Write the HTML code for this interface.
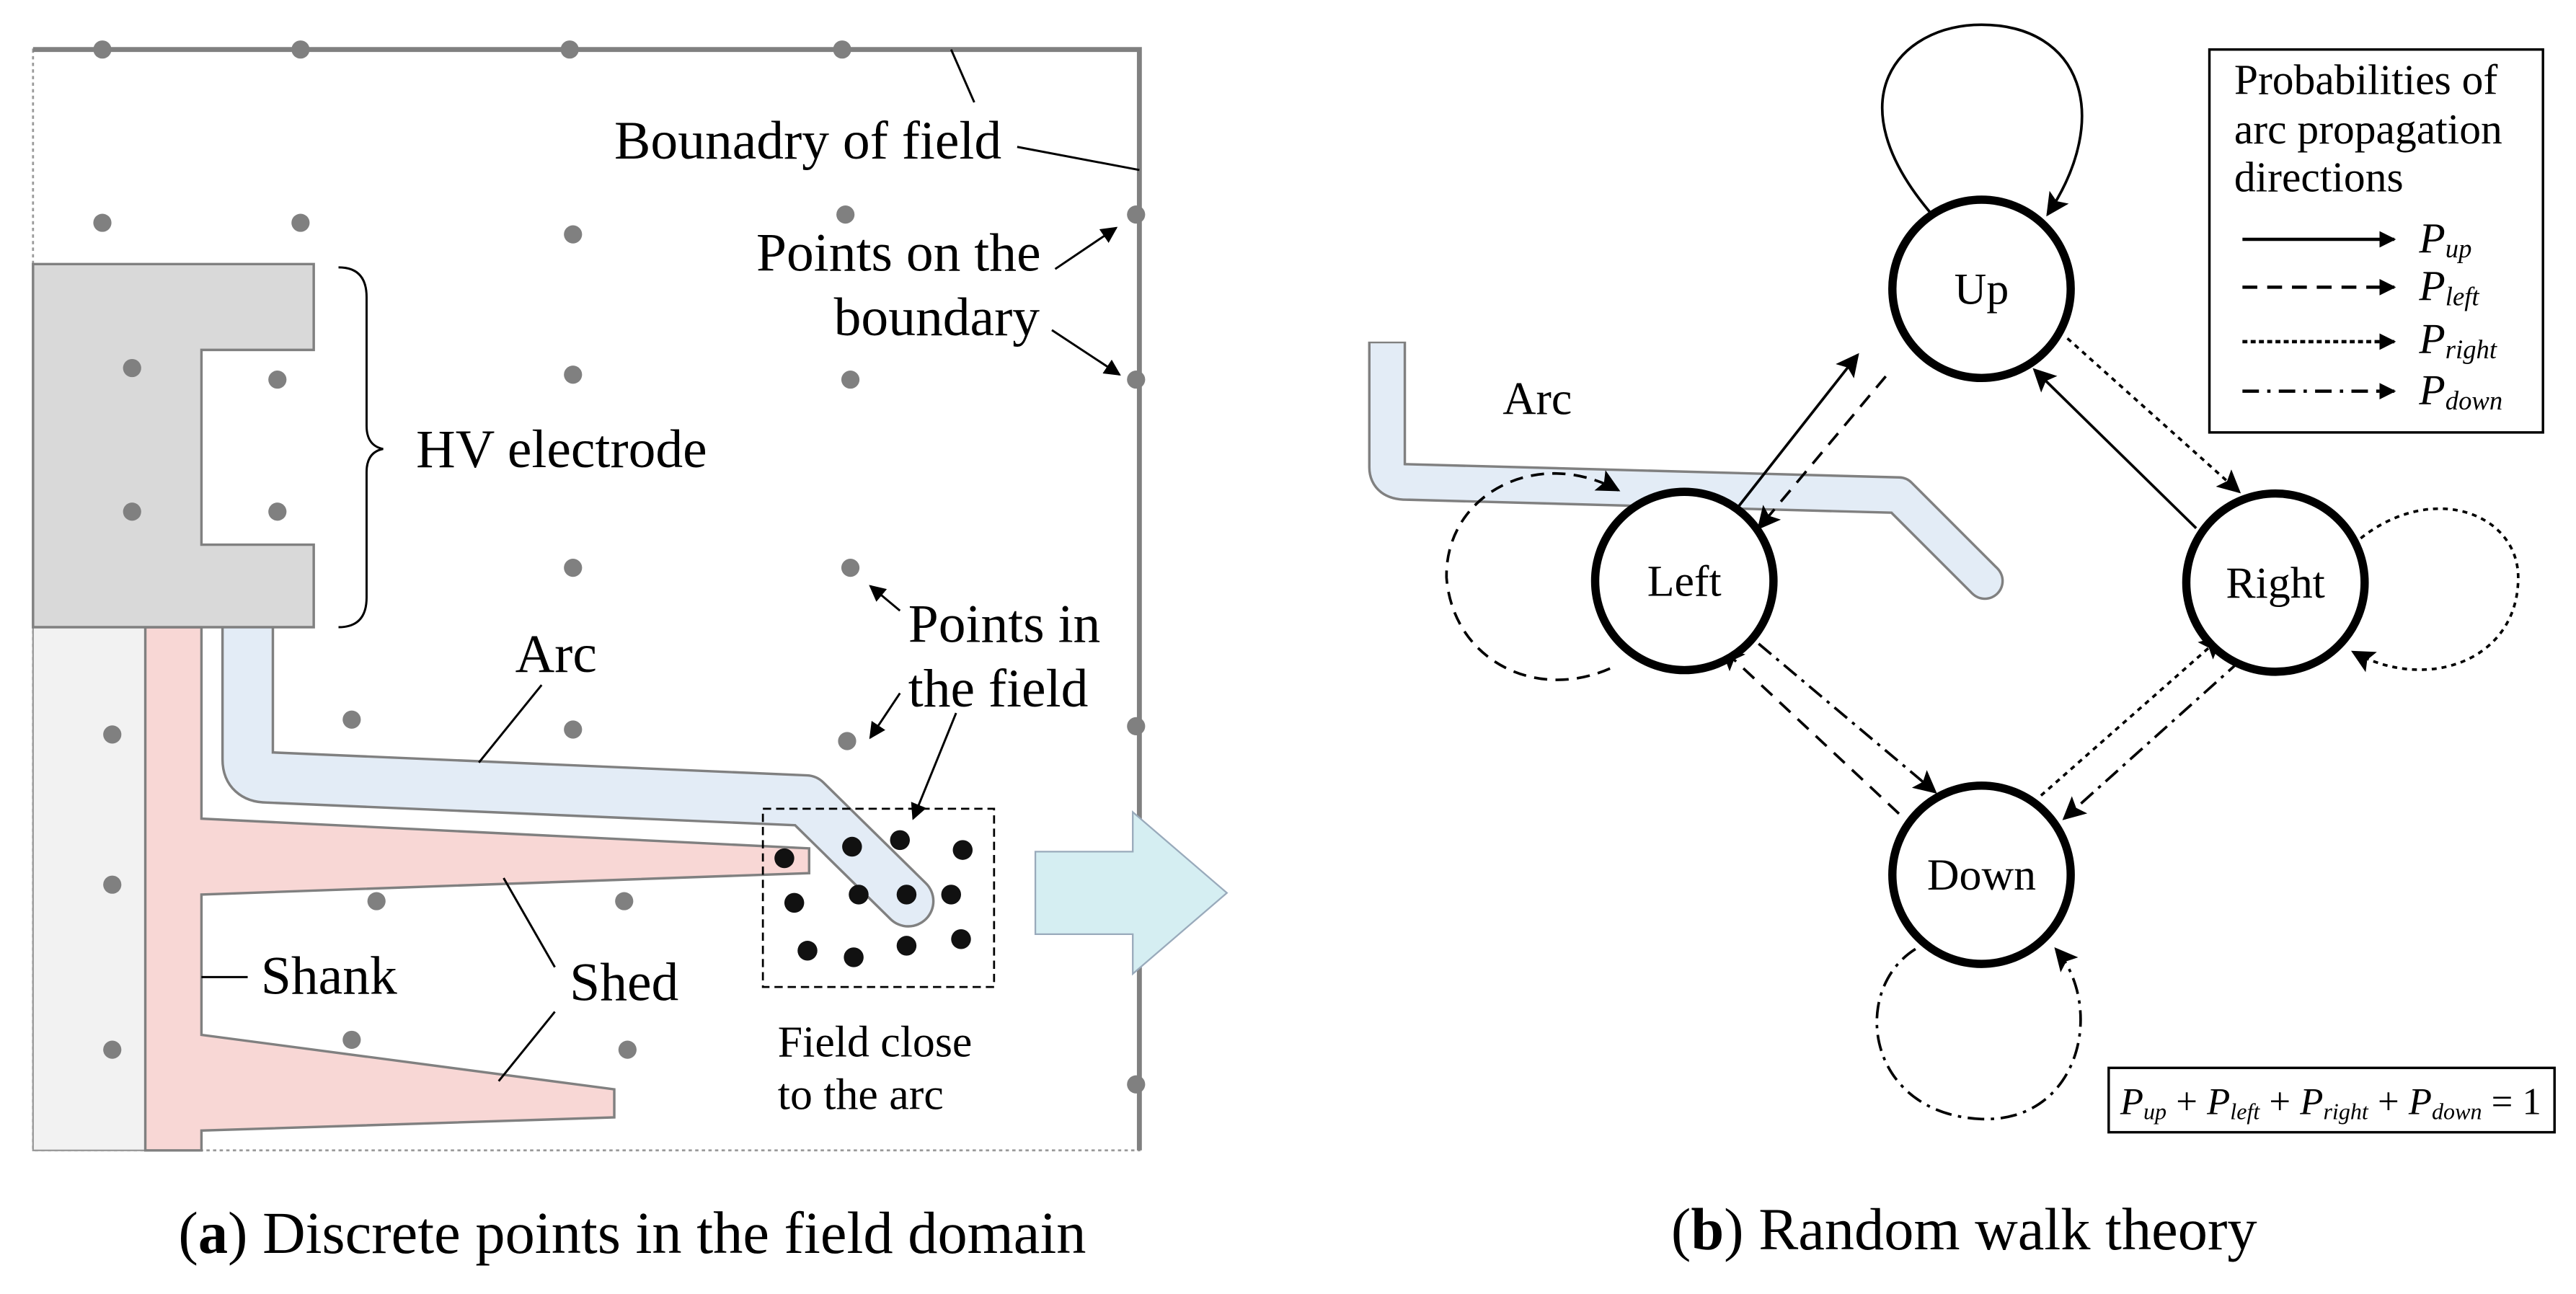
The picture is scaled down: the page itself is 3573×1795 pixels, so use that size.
<!DOCTYPE html>
<html><head><meta charset="utf-8"><style>html,body{margin:0;padding:0;background:#fff}svg{display:block}text{font-family:"Liberation Serif",serif;fill:#000}</style></head>
<body>
<svg width="3573" height="1795" viewBox="0 0 1560 784" preserveAspectRatio="none" xmlns="http://www.w3.org/2000/svg">
<defs>
<marker id="ah" viewBox="0 0 10 10" refX="9" refY="5" markerWidth="10" markerHeight="10" markerUnits="userSpaceOnUse" orient="auto"><path d="M0,0 L10,5 L0,10 Z" fill="#000"/></marker>
<marker id="ahb" viewBox="0 0 10 10" refX="9" refY="5" markerWidth="14" markerHeight="14" markerUnits="userSpaceOnUse" orient="auto"><path d="M0,0 L10,5 L0,10 L2,5 Z" fill="#000"/></marker>
</defs>
<!-- Left panel -->
<rect x="20" y="30" width="670" height="667" fill="none" stroke="#999" stroke-width="1.2" stroke-dasharray="2,2"/>
<path d="M20,30 L690,30 L690,697" fill="none" stroke="#808080" stroke-width="3"/>
<rect x="20" y="380" width="68" height="317" fill="#f2f2f2" stroke="#999" stroke-width="1"/>
<path d="M88,380 L122,380 L122,496 L490,514 L490,529 L122,542 L122,627 L372,660 L372,677 L122,685 L122,697 L88,697 Z" fill="#f8d7d5" stroke="#808080" stroke-width="1.5"/>
<path d="M150,370 L150,460 Q150,471 162,471 L488,485 L550,546" fill="none" stroke="#808080" stroke-width="32" stroke-linejoin="round" stroke-linecap="round"/>
<path d="M150,370 L150,460 Q150,471 162,471 L488,485 L550,546" fill="none" stroke="#e3ecf6" stroke-width="29" stroke-linejoin="round" stroke-linecap="round"/>
<path d="M20,160 L190,160 L190,212 L122,212 L122,330 L190,330 L190,380 L20,380 Z" fill="#d9d9d9" stroke="#808080" stroke-width="1.5"/>
<g fill="#808080">
<circle cx="62" cy="30" r="5.5"/><circle cx="182" cy="30" r="5.5"/><circle cx="345" cy="30" r="5.5"/><circle cx="510" cy="30" r="5.5"/>
<circle cx="62" cy="135" r="5.5"/><circle cx="182" cy="135" r="5.5"/><circle cx="347" cy="142" r="5.5"/><circle cx="512" cy="130" r="5.5"/>
<circle cx="688" cy="130" r="5.5"/><circle cx="688" cy="230" r="5.5"/><circle cx="688" cy="440" r="5.5"/><circle cx="688" cy="657" r="5.5"/>
<circle cx="80" cy="223" r="5.5"/><circle cx="168" cy="230" r="5.5"/><circle cx="347" cy="227" r="5.5"/><circle cx="515" cy="230" r="5.5"/>
<circle cx="80" cy="310" r="5.5"/><circle cx="168" cy="310" r="5.5"/><circle cx="347" cy="344" r="5.5"/><circle cx="515" cy="344" r="5.5"/>
<circle cx="213" cy="436" r="5.5"/><circle cx="347" cy="442" r="5.5"/><circle cx="513" cy="449" r="5.5"/>
<circle cx="68" cy="445" r="5.5"/><circle cx="68" cy="536" r="5.5"/><circle cx="68" cy="636" r="5.5"/>
<circle cx="228" cy="546" r="5.5"/><circle cx="378" cy="546" r="5.5"/><circle cx="213" cy="630" r="5.5"/><circle cx="380" cy="636" r="5.5"/>
</g>
<rect x="462" y="490" width="140" height="108" fill="none" stroke="#000" stroke-width="1.2" stroke-dasharray="5,3"/>
<g fill="#111">
<circle cx="475" cy="520" r="6"/><circle cx="516" cy="513" r="6"/><circle cx="545" cy="509" r="6"/><circle cx="583" cy="515" r="6"/>
<circle cx="481" cy="547" r="6"/><circle cx="520" cy="542" r="6"/><circle cx="549" cy="542" r="6"/><circle cx="576" cy="542" r="6"/>
<circle cx="489" cy="576" r="6"/><circle cx="517" cy="580" r="6"/><circle cx="549" cy="573" r="6"/><circle cx="582" cy="569" r="6"/>
</g>
<path d="M627,516 L686,516 L686,492 L743,541 L686,590 L686,566 L627,566 Z" fill="#d5eef2" stroke="#9ab" stroke-width="1"/>
<g stroke="#000" stroke-width="1.3" fill="none">
<path d="M576,30 L590,62"/><path d="M616,89 L690,103"/>
<path d="M639,163 L676,138" marker-end="url(#ah)"/><path d="M637,200 L678,227" marker-end="url(#ah)"/>
<path d="M205,162 Q222,162 222,180 L222,258 Q222,270 232,272 Q222,274 222,286 L222,362 Q222,380 205,380"/>
<path d="M328,415 L290,462"/>
<path d="M545,370 L527,355" marker-end="url(#ah)"/><path d="M545,420 L527,447" marker-end="url(#ah)"/><path d="M579,432 L553,496" marker-end="url(#ah)"/>
<path d="M122,592 L150,592"/><path d="M336,586 L305,532"/><path d="M336,613 L302,655"/>
</g>
<text x="372" y="96" font-size="33">Bounadry of field</text>
<text x="458" y="164" font-size="33">Points on the</text>
<text x="505" y="203" font-size="33">boundary</text>
<text x="252" y="283" font-size="33">HV electrode</text>
<text x="312" y="407" font-size="33">Arc</text>
<text x="550" y="389" font-size="33">Points in</text>
<text x="550" y="428" font-size="33">the field</text>
<text x="158" y="602" font-size="33">Shank</text>
<text x="345" y="606" font-size="33">Shed</text>
<text x="471" y="640" font-size="27">Field close</text>
<text x="471" y="672" font-size="27">to the arc</text>
<text x="108" y="759" font-size="36">(<tspan font-weight="bold">a</tspan>) Discrete points in the field domain</text>
<!-- Right panel -->
<path d="M840,207 L840,283 Q840,292 852,292 L1150,300 L1202,352" fill="none" stroke="#808080" stroke-width="23" stroke-linejoin="round" stroke-linecap="butt"/>
<circle cx="1202" cy="352" r="11.5" fill="#808080"/><circle cx="1202" cy="352" r="10" fill="#e3ecf6"/>
<path d="M840,208 L840,283 Q840,292 852,292 L1150,300 L1202,352" fill="none" stroke="#e3ecf6" stroke-width="20" stroke-linejoin="round" stroke-linecap="butt"/>
<text x="910" y="251" font-size="28">Arc</text>
<g fill="none" stroke="#000" stroke-width="1.6">
<path d="M1170,130 C1110,60 1150,15 1200,15 C1260,15 1280,70 1240,130" marker-end="url(#ahb)"/>
<path d="M975,405 C930,425 880,400 876,350 C875,300 930,270 980,297" stroke-dasharray="8,5" marker-end="url(#ahb)"/>
<path d="M1425,330 C1470,290 1525,310 1525,350 C1525,400 1470,420 1425,395" stroke-dasharray="3,3" marker-end="url(#ahb)"/>
<path d="M1160,575 C1120,600 1130,675 1200,678 C1260,680 1275,610 1245,575" stroke-dasharray="10,4,2,4" marker-end="url(#ahb)"/>
<path d="M1048,313 L1125,215" marker-end="url(#ahb)"/>
<path d="M1142,228 L1065,320" stroke-dasharray="9,6" marker-end="url(#ahb)"/>
<path d="M1252,205 L1356,298" stroke-dasharray="3,3" marker-end="url(#ahb)"/>
<path d="M1330,320 L1232,224" marker-end="url(#ahb)"/>
<path d="M1065,390 L1172,480" stroke-dasharray="10,4,2,4" marker-end="url(#ahb)"/>
<path d="M1150,493 L1043,393" stroke-dasharray="9,6" marker-end="url(#ahb)"/>
<path d="M1236,482 L1345,386" stroke-dasharray="3,3" marker-end="url(#ahb)"/>
<path d="M1357,400 L1250,496" stroke-dasharray="10,4,2,4" marker-end="url(#ahb)"/>
</g>
<g fill="#fff" stroke="#000" stroke-width="5">
<circle cx="1200" cy="175" r="54"/><circle cx="1020" cy="352" r="54"/><circle cx="1378" cy="353" r="54"/><circle cx="1200" cy="530" r="54"/>
</g>
<g font-size="27" text-anchor="middle">
<text x="1200" y="184">Up</text><text x="1020" y="361">Left</text><text x="1378" y="362">Right</text><text x="1200" y="539">Down</text>
</g>
<rect x="1338" y="30" width="202" height="232" fill="#fff" stroke="#000" stroke-width="1.5"/>
<text x="1353" y="57" font-size="26">Probabilities of</text>
<text x="1353" y="87" font-size="26">arc propagation</text>
<text x="1353" y="116" font-size="26">directions</text>
<g stroke="#000" stroke-width="2" fill="none">
<path d="M1358,145 L1450,145" marker-end="url(#ah)"/>
<path d="M1358,174 L1450,174" stroke-dasharray="9,6" marker-end="url(#ah)"/>
<path d="M1358,207 L1450,207" stroke-dasharray="3,2" marker-end="url(#ah)"/>
<path d="M1358,237 L1450,237" stroke-dasharray="10,5,2,5" marker-end="url(#ah)"/>
</g>
<g font-size="26" font-style="italic">
<text x="1465" y="153">P<tspan font-size="16" dy="3">up</tspan></text>
<text x="1465" y="182">P<tspan font-size="16" dy="3">left</tspan></text>
<text x="1465" y="214">P<tspan font-size="16" dy="3">right</tspan></text>
<text x="1465" y="245">P<tspan font-size="16" dy="3">down</tspan></text>
</g>
<rect x="1277" y="647" width="270" height="39" fill="#fff" stroke="#000" stroke-width="1.5"/>
<text x="1284" y="675" font-size="23"><tspan font-style="italic">P</tspan><tspan font-size="14" font-style="italic" dy="3">up</tspan><tspan dy="-3"> + </tspan><tspan font-style="italic">P</tspan><tspan font-size="14" font-style="italic" dy="3">left</tspan><tspan dy="-3"> + </tspan><tspan font-style="italic">P</tspan><tspan font-size="14" font-style="italic" dy="3">right</tspan><tspan dy="-3"> + </tspan><tspan font-style="italic">P</tspan><tspan font-size="14" font-style="italic" dy="3">down</tspan><tspan dy="-3"> = 1</tspan></text>
<text x="1012" y="757" font-size="36">(<tspan font-weight="bold">b</tspan>) Random walk theory</text>
</svg>
</body></html>
